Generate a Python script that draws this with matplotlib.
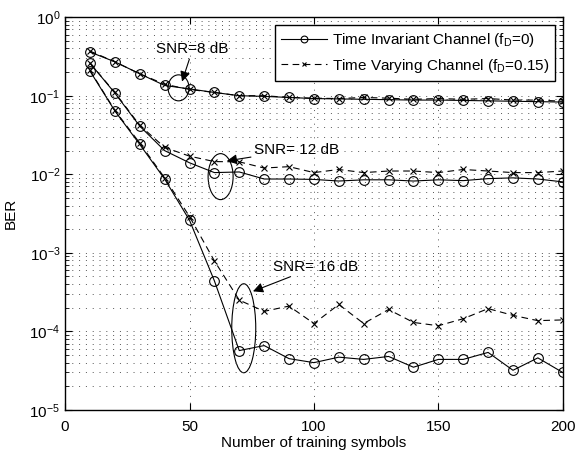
import matplotlib
matplotlib.use("Agg")
import matplotlib.pyplot as plt
from matplotlib.patches import Ellipse
from matplotlib.ticker import LogLocator, NullFormatter

plt.rcParams['font.family'] = ['Liberation Sans', 'DejaVu Sans']
plt.rcParams['mathtext.fontset'] = 'custom'
plt.rcParams['mathtext.rm'] = 'Liberation Sans'

# Donnees
symbols = [10, 20, 30, 40, 50, 60, 70, 80, 90, 100,
           110, 120, 130, 140, 150, 160, 170, 180, 190, 200]

ti_8 = [0.36, 0.27, 0.19, 0.135, 0.122, 0.11, 0.10, 0.098, 0.095, 0.092,
        0.091, 0.09, 0.089, 0.088, 0.088, 0.087, 0.086, 0.085, 0.084, 0.083]
tv_8 = [0.37, 0.27, 0.19, 0.14, 0.12, 0.11, 0.10, 0.10, 0.095, 0.093,
        0.092, 0.095, 0.093, 0.09, 0.092, 0.09, 0.092, 0.088, 0.088, 0.085]

ti_12 = [0.26, 0.108, 0.041, 0.020, 0.014, 0.0105, 0.0107, 0.0087, 0.0087, 0.0086,
         0.0082, 0.0085, 0.0085, 0.0082, 0.0085, 0.0083, 0.0088, 0.0090, 0.0087, 0.0080]
tv_12 = [0.26, 0.11, 0.042, 0.022, 0.017, 0.0145, 0.0144, 0.012, 0.0125, 0.0105,
         0.0115, 0.0105, 0.011, 0.011, 0.0105, 0.0115, 0.011, 0.0105, 0.0105, 0.011]

ti_16 = [0.206, 0.064, 0.024, 0.0087, 0.0026, 4.4e-4, 5.7e-5, 6.6e-5, 4.5e-5, 4.0e-5,
         4.7e-5, 4.4e-5, 4.8e-5, 3.5e-5, 4.4e-5, 4.4e-5, 5.4e-5, 3.2e-5, 4.6e-5, 3.0e-5]
tv_16 = [0.21, 0.065, 0.025, 0.009, 0.0029, 7.9e-4, 2.5e-4, 1.8e-4, 2.1e-4, 1.26e-4,
         2.2e-4, 1.26e-4, 1.9e-4, 1.3e-4, 1.18e-4, 1.45e-4, 1.95e-4, 1.6e-4, 1.37e-4, 1.4e-4]

# annotations: (texte, position texte, pointe fleche, centre ellipse, largeur, hauteur en px)
notes = [
    ("SNR=8 dB", (36.7, 10**-0.41), (47.0, 10**-0.82), (45.6, 10**-0.90), 21, 26),
    ("SNR= 12 dB", (75.8, 10**-1.69), (65.0, 10**-1.83), (62.5, 10**-2.03), 25, 46),
    ("SNR= 16 dB", (83.5, 10**-3.18), (75.5, 10**-3.49), (71.8, 10**-3.96), 24, 89),
]

FS = 11

fig = plt.figure(figsize=(5.76, 4.51), dpi=100)
ax = fig.add_axes([0.113, 0.091, 0.864, 0.871])

lw = 0.8
ms_o = 7
ms_x = 5
l1, = ax.plot(symbols, ti_8, '-', color='k', lw=lw, marker='o', mfc='none', ms=ms_o, mew=0.8,
              label='Time Invariant Channel (f$_\\mathregular{D}$=0)')
l2, = ax.plot(symbols, tv_8, '--', color='k', lw=lw, marker='x', ms=ms_x, mew=0.8, dashes=(6, 4),
              label='Time Varying Channel (f$_\\mathregular{D}$=0.15)')
for ti, tv in [(ti_12, tv_12), (ti_16, tv_16)]:
    ax.plot(symbols, ti, '-', color='k', lw=lw, marker='o', mfc='none', ms=ms_o, mew=0.8)
    ax.plot(symbols, tv, '--', color='k', lw=lw, marker='x', ms=ms_x, mew=0.8, dashes=(6, 4))

ax.set_yscale('log')
ax.set_xlim(0, 200)
ax.set_ylim(1e-5, 1)
ax.set_xticks([0, 50, 100, 150, 200])
ax.yaxis.set_major_locator(LogLocator(base=10, numticks=10))
ax.yaxis.set_minor_locator(LogLocator(base=10, subs=range(2, 10), numticks=10))
ax.yaxis.set_minor_formatter(NullFormatter())

grid_style = dict(linestyle=(0, (1, 6)), color='#555555', lw=0.7)
ax.grid(True, which='major', **grid_style)
ax.grid(True, which='minor', axis='y', **grid_style)
ax.tick_params(which='both', direction='in', top=True, right=True, labelsize=FS)
ax.tick_params(which='major', length=5)
ax.tick_params(which='minor', length=3)
ax.tick_params(axis='x', pad=7)
for s in ax.spines.values():
    s.set_linewidth(1.0)

ax.set_xlabel('Number of training symbols', fontsize=FS, labelpad=2)
ax.set_ylabel('BER', fontsize=FS, labelpad=8)

fig.canvas.draw()
to_axes = ax.transData + ax.transAxes.inverted()
bbox = ax.get_window_extent()
for text, tpos, apos, cpos, w, h in notes:
    ax.annotate(text, xy=apos, xytext=tpos, fontsize=FS, va='center', ha='left',
                arrowprops=dict(arrowstyle='-|>', color='k', lw=0.8, mutation_scale=15,
                                shrinkA=0, shrinkB=0))
    cx, cy = to_axes.transform(cpos)
    ax.add_patch(Ellipse((cx, cy), w / bbox.width, h / bbox.height, transform=ax.transAxes,
                         fill=False, ec='k', lw=0.8))

leg = ax.legend(handles=[l1, l2], loc='upper right', fontsize=FS, handlelength=3,
                markerscale=0.7, fancybox=False, framealpha=1, edgecolor='k',
                borderaxespad=0.5, borderpad=0.4, labelspacing=0.5, handletextpad=0.3)
leg.get_frame().set_linewidth(1.0)

fig.savefig('out.png', dpi=100)
